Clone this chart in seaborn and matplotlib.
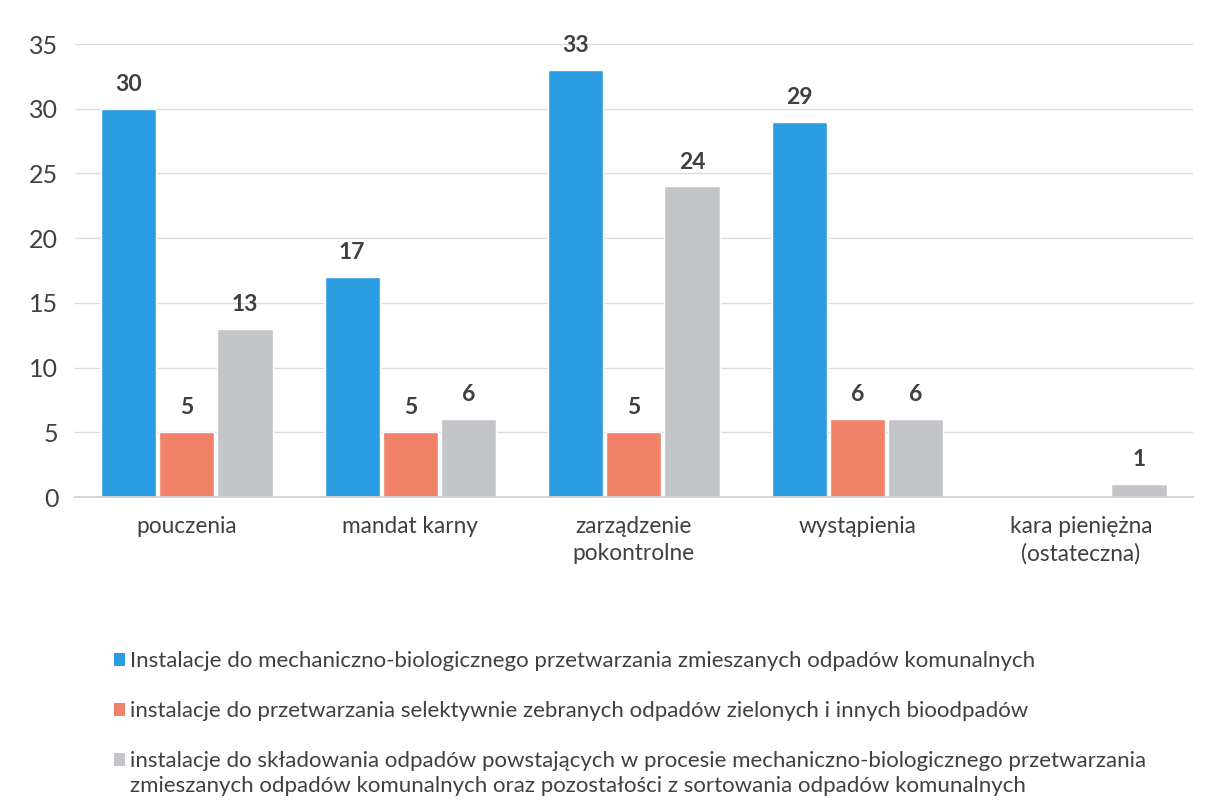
import matplotlib
matplotlib.use("Agg")
import matplotlib.pyplot as plt
import seaborn as sns
import pandas as pd
from matplotlib.patches import Patch

categories = ["pouczenia", "mandat karny", "zarządzenie\npokontrolne", "wystąpienia", "kara pieniężna\n(ostateczna)"]
series_names = [
    "Instalacje do mechaniczno-biologicznego przetwarzania zmieszanych odpadów komunalnych",
    "instalacje do przetwarzania selektywnie zebranych odpadów zielonych i innych bioodpadów",
    "instalacje do składowania odpadów powstających w procesie mechaniczno-biologicznego przetwarzania",
]
series_name_cont = "zmieszanych odpadów komunalnych oraz pozostałości z sortowania odpadów komunalnych"
mbp_values = [30, 17, 33, 29, 0]
bio_values = [5, 5, 5, 6, 0]
landfill_values = [13, 6, 24, 6, 1]
y_ticks = [0, 5, 10, 15, 20, 25, 30, 35]

colors = ["#2A9DE2", "#F0826A", "#C3C5C8"]
text_color = "#404040"

sns.set_theme(style="white")
plt.rcParams["font.family"] = ["Lato", "DejaVu Sans"]

rows = []
for name, vals in zip(series_names, [mbp_values, bio_values, landfill_values]):
    for cat, v in zip(categories, vals):
        rows.append({"kategoria": cat, "seria": name, "liczba": v})
df = pd.DataFrame(rows)

fig = plt.figure(figsize=(12.06, 8.05), dpi=100)
ax = fig.add_axes([0.0622, 0.3826, 0.9268, 0.5627])

sns.barplot(data=df, x="kategoria", y="liczba", hue="seria", hue_order=series_names,
            order=categories, palette=colors, width=0.78, gap=0.05, saturation=1,
            ax=ax, legend=False)

ax.set_ylim(0, 35)
ax.set_yticks(y_ticks)
ax.set_xlim(-0.5, len(categories) - 0.5)
ax.set_xlabel("")
ax.set_ylabel("")
ax.grid(axis="y", color="#DCDCDC", linewidth=1)
ax.set_axisbelow(True)
for s in ["top", "right", "left"]:
    ax.spines[s].set_visible(False)
ax.spines["bottom"].set_color("#D0D0D0")
ax.tick_params(axis="y", length=0, pad=12, labelsize=18, labelcolor=text_color)
ax.tick_params(axis="x", length=0, pad=14, labelsize=16.3, labelcolor=text_color)
for lbl in ax.get_xticklabels():
    lbl.set_linespacing(1.3)

for container in ax.containers:
    labels = [f"{v:.0f}" if v > 0 else "" for v in container.datavalues]
    ax.bar_label(container, labels=labels, padding=10, fontsize=16.5,
                 fontweight="bold", color=text_color)

handles = [Patch(facecolor=c, edgecolor="none") for c in colors]
leg = fig.legend(handles, series_names, loc="upper left", bbox_to_anchor=(0.087, 0.202),
                 frameon=False, fontsize=16, labelcolor=text_color, handlelength=0.5,
                 handleheight=0.5, handletextpad=0.25, labelspacing=1.35,
                 borderaxespad=0)

# second line of the third legend entry, set under its first line
fig.canvas.draw()
last = leg.get_texts()[-1]
bb = last.get_window_extent().transformed(fig.transFigure.inverted())
fig.text(bb.x0, bb.y0 - 0.0055, series_name_cont, fontsize=16, color=text_color,
         ha="left", va="top")

fig.savefig("out.png", dpi=100, facecolor="white")
